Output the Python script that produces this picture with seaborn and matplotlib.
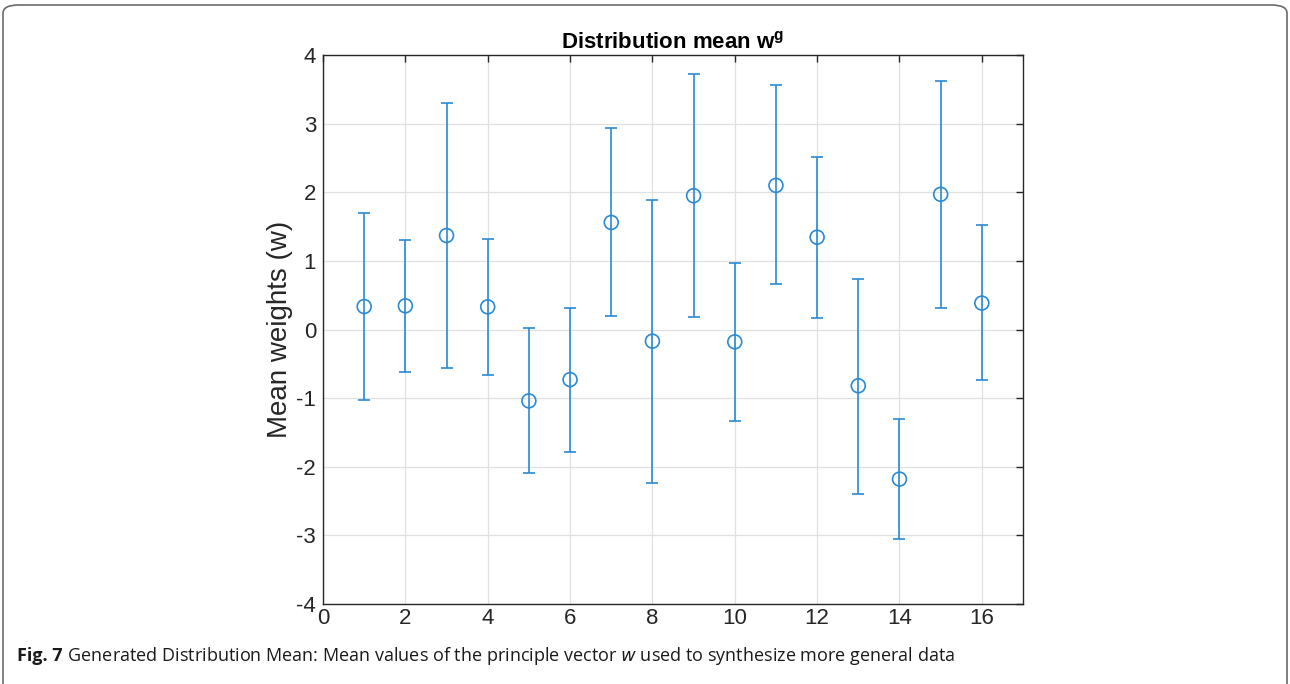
import numpy as np
import pandas as pd
import seaborn as sns
import matplotlib
matplotlib.use("Agg")
import matplotlib.pyplot as plt
from matplotlib.patches import FancyBboxPatch

# ---- data ----
index = [1, 2, 3, 4, 5, 6, 7, 8, 9, 10, 11, 12, 13, 14, 15, 16]
mean_w = [0.335, 0.345, 1.37, 0.33, -1.04, -0.73, 1.56, -0.17, 1.95, -0.18,
          2.10, 1.345, -0.82, -2.18, 1.97, 0.385]
upper_w = [1.70, 1.30, 3.30, 1.32, 0.015, 0.32, 2.93, 1.89, 3.72, 0.975,
           3.56, 2.52, 0.74, -1.31, 3.62, 1.52]
lower_w = [-1.03, -0.62, -0.56, -0.67, -2.09, -1.78, 0.19, -2.24, 0.175, -1.34,
           0.66, 0.165, -2.39, -3.05, 0.31, -0.73]
x_ticks = [0, 2, 4, 6, 8, 10, 12, 14, 16]
y_ticks = [-4, -3, -2, -1, 0, 1, 2, 3, 4]

title_text = r"Distribution mean w$^{\mathbf{g}}$"
ylabel_text = "Mean weights (w)"
caption_bold = "Fig. 7"
caption_text = (" Generated Distribution Mean: Mean values of the principle vector "
                "$\\it{w}$ used to synthesize more general data")

df = pd.DataFrame({"idx": index, "mean": mean_w, "upper": upper_w, "lower": lower_w})

sns.set_theme(style="white")
plt.rcParams["font.family"] = ["Liberation Sans", "DejaVu Sans"]
plt.rcParams["axes.unicode_minus"] = False
plt.rcParams["mathtext.fontset"] = "custom"
plt.rcParams["mathtext.rm"] = "Liberation Sans"
plt.rcParams["mathtext.bf"] = "Liberation Sans:bold"

color = "#2A8AD4"
dark = "#262626"

fig = plt.figure(figsize=(12.9, 6.84), dpi=100)
ax = fig.add_axes([323 / 1290, 1 - 604 / 684, 700 / 1290, 549 / 684])

yerr = np.vstack([df["mean"] - df["lower"], df["upper"] - df["mean"]])
ax.errorbar(df["idx"], df["mean"], yerr=yerr, fmt="none", ecolor=color,
            elinewidth=1.2, capsize=4.5, capthick=1.2, zorder=3)
sns.scatterplot(data=df, x="idx", y="mean", ax=ax, marker="o", s=100,
                facecolor="none", edgecolor=color, linewidth=1.2, zorder=4)

ax.set_xlim(0, 17)
ax.set_ylim(-4, 4)
ax.set_xticks(x_ticks)
ax.set_yticks(y_ticks)
ax.grid(True, color="#e0e0e0", linewidth=0.9)
ax.set_axisbelow(True)
for s in ax.spines.values():
    s.set_color(dark)
    s.set_linewidth(1.0)
ax.tick_params(direction="in", length=5, width=1.0, colors=dark,
               labelsize=16, top=True, right=True, pad=5)
ax.tick_params(axis="x", pad=3)
ax.set_xlabel("")
ax.set_ylabel(ylabel_text, fontsize=20, color=dark, labelpad=2)
ax.set_title(title_text, fontsize=16, fontweight="bold", color="black", pad=5)

# caption
cap = fig.text(17 / 1290, 1 - 656 / 684, caption_bold, fontsize=13, fontweight="bold",
               family=["Open Sans", "DejaVu Sans"], color="#1a1a1a", va="center")
fig.canvas.draw()
bb = cap.get_window_extent()
fig.text(bb.x1 / 1290, 1 - 656 / 684, caption_text, fontsize=13,
         family=["Open Sans", "DejaVu Sans"], color="#1a1a1a", va="center")

# outer rounded frame
frame = FancyBboxPatch((3 / 1290, -0.05), 1284 / 1290, 1.05 - 5 / 684,
                       boxstyle="round,pad=0,rounding_size=0.012",
                       transform=fig.transFigure, fill=False,
                       edgecolor="#6b6b6b", linewidth=1.2)
fig.add_artist(frame)

fig.savefig("out.png", dpi=100)
